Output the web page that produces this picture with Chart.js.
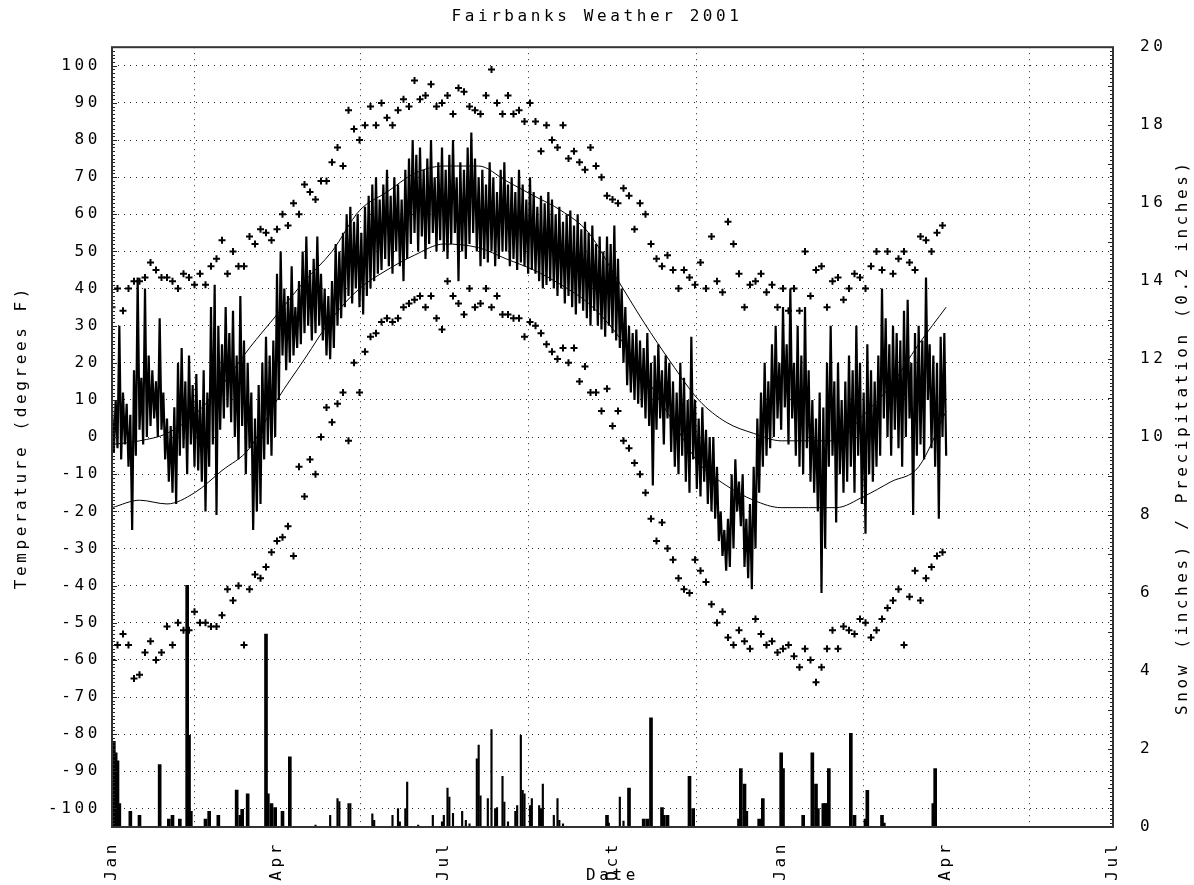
<!DOCTYPE html>
<html>
<head>
<meta charset="utf-8">
<title>Fairbanks Weather 2001</title>
<script src="https://cdn.jsdelivr.net/npm/chart.js@4.4.1/dist/chart.umd.min.js"></script>
<style>
    body { margin: 0; background: #fff; }
    canvas { display: block; }
</style>
</head>
<body>
<canvas id="grafico" width="1194" height="885"></canvas>
<script>
// Fonte monoespaçada, com letras afastadas como no original
const FONTE = 'DejaVu Sans Mono';
const ESPACO = '3.6px';

// Eixo x em dias desde 1 de janeiro de 2001
const diasMarcas = [0, 90, 181, 273, 365, 455, 546];
const rotulosMarcas = ['Jan', 'Apr', 'Jul', 'Oct', 'Jan', 'Apr', 'Jul'];
const marcasTemp = [-100, -90, -80, -70, -60, -50, -40, -30, -20, -10, 0, 10, 20, 30, 40, 50, 60, 70, 80, 90, 100];
const marcasNeve = [0, 2, 4, 6, 8, 10, 12, 14, 16, 18, 20];

// Recordes (graus F), um valor a cada 3 dias
const passoRecorde = 3;
const recordeMax = [
    35, 40, 34, 40, 42, 42, 43, 47, 45, 43,
    43, 42, 40, 44, 43, 41, 44, 41, 46, 48,
    53, 44, 50, 46, 46, 54, 52, 56, 55, 53,
    56, 60, 57, 63, 60, 68, 66, 64, 69, 69,
    74, 78, 73, 88, 83, 80, 84, 89, 84, 90,
    86, 84, 88, 91, 89, 96, 91, 92, 95, 89,
    90, 92, 87, 94, 93, 89, 88, 87, 92, 99,
    90, 87, 92, 87, 88, 85, 90, 85, 77, 84,
    80, 78, 84, 75, 77, 74, 72, 78, 73, 70,
    65, 64, 63, 67, 65, 56, 63, 60, 52, 48,
    46, 49, 45, 40, 45, 43, 41, 47, 40, 54,
    42, 39, 58, 52, 44, 35, 41, 42, 44, 39,
    41, 35, 40, 34, 40, 34, 50, 38, 45, 46,
    35, 42, 43, 37, 40, 44, 43, 40, 46, 50,
    45, 50, 44, 48, 50, 47, 45, 54, 53, 50,
    55, 57
];
const recordeMin = [
    -60, -56, -53, -56, -65, -64, -58, -55, -60, -58,
    -51, -56, -50, -52, -52, -47, -50, -50, -51, -51,
    -48, -41, -44, -40, -56, -41, -37, -38, -35, -31,
    -28, -27, -24, -32, -8, -16, -6, -10, 0, 8,
    4, 9, 12, -1, 20, 12, 23, 27, 28, 31,
    32, 31, 32, 35, 36, 37, 38, 35, 38, 32,
    29, 42, 38, 36, 33, 40, 35, 36, 40, 35,
    38, 33, 33, 32, 32, 27, 31, 30, 28, 25,
    23, 21, 24, 20, 24, 15, 19, 12, 12, 7,
    13, 3, 7, -1, -3, -7, -10, -15, -22, -28,
    -23, -30, -33, -38, -41, -42, -33, -36, -39, -45,
    -50, -47, -54, -56, -52, -55, -57, -49, -53, -56,
    -55, -58, -57, -56, -59, -62, -57, -60, -66, -62,
    -57, -52, -57, -51, -52, -53, -49, -50, -54, -52,
    -49, -46, -44, -41, -56, -43, -36, -44, -38, -35,
    -32, -31
];

// Máxima e mínima do dia, um par a cada 2 dias
const passoDiario = 2;
const diariaMax = [
    8, 10, 30, 12, 9, 6, 18, 43, 16, 40, 22, 18, 15, 32, 12,
    5, 3, 8, 20, 24, 15, 22, 14, 17, 10, 18, 12, 35, 41, 30,
    25, 35, 28, 34, 22, 38, 26, 20, 12, 5, 14, 20, 27, 22, 26,
    44, 50, 40, 38, 46, 35, 42, 50, 54, 45, 48, 54, 44, 40, 38,
    42, 52, 50, 55, 60, 62, 58, 60, 55, 62, 65, 68, 70, 64, 68,
    72, 65, 70, 68, 64, 72, 75, 80, 76, 78, 72, 75, 80, 70, 74,
    78, 72, 76, 80, 70, 74, 72, 78, 82, 75, 70, 72, 68, 74, 70,
    66, 72, 74, 68, 70, 66, 72, 68, 64, 70, 66, 62, 65, 63, 66,
    64, 60, 62, 58, 60, 61, 57, 60, 56, 58, 55, 57, 52, 54, 50,
    54, 52, 57, 48, 40, 35, 30, 28, 29, 26, 24, 28, 20, 22, 25,
    18, 22, 20, 15, 12, 20, 16, 10, 27, 10, 5, 8, 2, 0, 0,
    -8, -20, -25, -22, -10, -6, -12, -10, -22, -18, -8, 5, 12, 20, 15,
    25, 30, 20, 35, 25, 40, 20, 30, 22, 35, 18, 10, 5, 12, 8,
    20, 30, 15, 20, 10, 15, 22, 18, 30, 20, 12, 25, 18, 15, 22,
    40, 32, 25, 30, 28, 26, 34, 37, 20, 28, 30, 26, 43, 25, 22,
    20, 27, 28
];
const diariaMin = [
    -4, -3, -6, -2, -8, -25, -5, 2, -2, 0, 3, 5, 0, 2, -6,
    -12, -15, -18, -5, -3, -10, -2, -8, -9, -12, -20, -8, -2, -21, 2,
    5, 8, 4, 0, -6, 3, -10, -3, -25, -20, -18, -6, -2, -5, 0,
    10, 22, 18, 20, 22, 24, 25, 28, 30, 26, 28, 30, 26, 22, 21,
    24, 30, 32, 35, 38, 36, 40, 35, 33, 38, 40, 42, 44, 45, 48,
    46, 44, 50, 46, 42, 48, 52, 55, 50, 54, 48, 52, 55, 50, 53,
    50, 48, 52, 55, 42, 50, 48, 52, 55, 50, 46, 48, 47, 50, 46,
    48, 50, 50, 46, 48, 45, 47, 46, 44, 45, 44, 42, 40, 41, 42,
    40, 38, 40, 36, 38, 35, 33, 36, 34, 32, 30, 34, 30, 29, 27,
    30, 28, 26, 24, 20, 14, 12, 10, 9, 8, 5, 3, -13, 2, 5,
    -2, 5, -4, -8, -10, -5, -12, -15, -6, -14, -16, -12, -18, -20, -22,
    -28, -32, -36, -35, -30, -20, -24, -35, -38, -41, -30, -15, -8, -5, -3,
    0, 5, 2, 8, -2, 5, -5, -8, -10, -3, -12, -15, -20, -42, -30,
    -8, -5, -23, -10, -15, -12, -8, -15, -5, -18, -26, -10, -12, -8, -5,
    5, 0, -5, 2, -3, -8, 0, 5, -21, -5, -2, -6, 10, -3, -8,
    -22, 0, -5
];

// Normais (curvas suaves)
const diasNormal = [0, 15, 30, 45, 60, 75, 90, 105, 120, 135, 150, 165, 181, 200, 215, 230,
    245, 260, 275, 290, 305, 320, 335, 350, 365, 380, 395, 410, 425, 440, 455];
const normalMax = [-2, -1, 1, 6, 14, 24, 33, 42, 50, 61, 66, 71, 73, 73, 69, 65,
    61, 55, 43, 31, 20, 10, 4, 1, -1, -1, -1, 6, 14, 25, 35];
const normalMin = [-19, -17, -18, -15, -9, -3, 10, 21, 32, 40, 45, 49, 52, 51, 48, 45,
    41, 36, 28, 17, 5, -7, -13, -17, -19, -19, -19, -16, -12, -8, 7];

// Neve (polegadas) e precipitação (0.2 polegadas), eixo da direita
const diasNeve = [1, 2, 3, 4, 10, 15, 26, 31, 33, 37, 41, 42, 43, 51, 53, 58, 68, 70, 71, 74,
    84, 85, 87, 89, 93, 97, 270, 282, 290, 292, 294, 300, 301, 303, 315, 317, 342, 343, 345, 346,
    353, 355, 365, 366, 377, 382, 384, 385, 388, 389, 390, 391, 403, 405, 411, 412, 420, 421, 448, 449];
const neve = [2.2, 1.9, 1.7, 0.6, 0.4, 0.3, 1.6, 0.2, 0.3, 0.2, 6.2, 2.35, 0.4, 0.2, 0.4, 0.3, 0.95, 0.3, 0.45, 0.85,
    4.95, 0.85, 0.6, 0.5, 0.4, 1.8, 0.3, 1.0, 0.2, 0.2, 2.8, 0.5, 0.3, 0.3, 1.3, 0.47, 0.2, 1.5, 1.1, 0.4,
    0.2, 0.73, 1.9, 1.5, 0.3, 1.9, 1.1, 0.47, 0.6, 0.6, 0.6, 1.5, 2.4, 0.3, 0.2, 0.94, 0.3, 0.1, 0.6, 1.5];
const diasChuva = [111, 119, 123, 124, 129, 130, 142, 143, 153, 156, 157, 160, 161, 167, 175, 180, 181,
    183, 184, 186, 191, 193, 195, 199, 200, 201, 205, 207, 209, 210, 213, 214, 216, 220, 221, 223,
    224, 225, 228, 229, 233, 234, 235, 241, 243, 244, 246, 271, 277, 279];
const chuva = [0.05, 0.3, 0.73, 0.65, 0.6, 0.6, 0.34, 0.17, 0.3, 0.47, 0.13, 0.47, 1.15, 0.05, 0.3, 0.13, 0.3,
    1.0, 0.77, 0.35, 0.4, 0.17, 0.08, 1.75, 2.1, 0.8, 0.73, 2.5, 0.47, 0.5, 1.3, 0.64, 0.13, 0.4, 0.55, 2.35,
    0.94, 0.85, 0.55, 0.73, 0.55, 0.47, 1.1, 0.3, 0.73, 0.17, 0.08, 0.1, 0.77, 0.15];

function pontosPasso(valores, passo) {
    return valores.map((v, i) => ({ x: i * passo, y: v }));
}

function pontosPares(dias, valores) {
    return dias.map((d, i) => ({ x: d, y: valores[i] }));
}

// Faixa diária: máxima num dia, mínima no seguinte (zigue-zague)
const faixaDiaria = [];
diariaMax.forEach((max, i) => {
    faixaDiaria.push({ x: i * passoDiario, y: max });
    faixaDiaria.push({ x: i * passoDiario + 1, y: diariaMin[i] });
});

const fonteTexto = { family: FONTE, size: 16, weight: 'normal' };

// Espaçamento de letras no canvas
const espacamento = {
    id: 'espacamento',
    beforeUpdate(chart) { chart.ctx.letterSpacing = ESPACO; },
    beforeDraw(chart) { chart.ctx.letterSpacing = ESPACO; }
};

// Moldura, marcas menores e título do eixo da direita
const moldura = {
    id: 'moldura',
    afterDatasetsDraw(chart) {
        const { ctx, chartArea: a, scales } = chart;
        ctx.save();
        ctx.strokeStyle = '#222';
        ctx.lineWidth = 1;
        ctx.beginPath();
        for (let t = -105; t <= 105; t++) {
            const y = Math.round(scales.y.getPixelForValue(t)) + 0.5;
            const tam = t % 10 === 0 ? 5 : 3;
            ctx.moveTo(a.left, y);
            ctx.lineTo(a.left + tam, y);
        }
        for (let i = 0; i <= 200; i++) {
            const y = Math.round(scales.y2.getPixelForValue(i / 10)) + 0.5;
            const tam = i % 10 === 0 ? 5 : 3;
            ctx.moveTo(a.right, y);
            ctx.lineTo(a.right - tam, y);
        }
        ctx.stroke();
        ctx.lineWidth = 2;
        ctx.strokeStyle = '#333';
        ctx.strokeRect(a.left, a.top, a.right - a.left, a.bottom - a.top);
        ctx.restore();
    },
    afterDraw(chart) {
        const { ctx, chartArea: a } = chart;
        ctx.save();
        ctx.letterSpacing = ESPACO;
        ctx.font = '16px "' + FONTE + '"';
        ctx.fillStyle = '#000';
        ctx.textAlign = 'center';
        ctx.textBaseline = 'middle';
        ctx.translate(1183, (a.top + a.bottom) / 2);
        ctx.rotate(-Math.PI / 2);
        ctx.fillText('Snow (inches) / Precipitation (0.2 inches)', 0, 0);
        ctx.restore();
    }
};

const ctx = document.getElementById('grafico').getContext('2d');
const grafico = new Chart(ctx, {
    type: 'scatter',
    data: {
        datasets: [
            {
                type: 'line',
                label: 'Daily',
                data: faixaDiaria,
                borderColor: '#000',
                borderWidth: 2.2,
                pointRadius: 0,
                tension: 0,
                yAxisID: 'y'
            },
            {
                type: 'line',
                label: 'Normal high',
                data: pontosPares(diasNormal, normalMax),
                borderColor: '#000',
                borderWidth: 1,
                pointRadius: 0,
                cubicInterpolationMode: 'monotone',
                yAxisID: 'y'
            },
            {
                type: 'line',
                label: 'Normal low',
                data: pontosPares(diasNormal, normalMin),
                borderColor: '#000',
                borderWidth: 1,
                pointRadius: 0,
                cubicInterpolationMode: 'monotone',
                yAxisID: 'y'
            },
            {
                type: 'scatter',
                label: 'Record high',
                data: pontosPasso(recordeMax, passoRecorde),
                pointStyle: 'cross',
                pointRadius: 3.5,
                borderWidth: 2,
                borderColor: '#000',
                yAxisID: 'y'
            },
            {
                type: 'scatter',
                label: 'Record low',
                data: pontosPasso(recordeMin, passoRecorde),
                pointStyle: 'cross',
                pointRadius: 3.5,
                borderWidth: 2,
                borderColor: '#000',
                yAxisID: 'y'
            },
            {
                type: 'bar',
                label: 'Snow',
                data: pontosPares(diasNeve, neve),
                backgroundColor: '#000',
                barThickness: 3,
                grouped: false,
                yAxisID: 'y2'
            },
            {
                type: 'bar',
                label: 'Precipitation',
                data: pontosPares(diasChuva, chuva),
                backgroundColor: '#000',
                barThickness: 1.5,
                grouped: false,
                yAxisID: 'y2'
            }
        ]
    },
    options: {
        responsive: false,
        animation: false,
        events: [],
        layout: { padding: 0 },
        plugins: {
            legend: { display: false },
            tooltip: { enabled: false },
            title: {
                display: true,
                text: 'Fairbanks Weather 2001',
                color: '#000',
                font: fonteTexto,
                padding: { top: 7, bottom: 21 }
            }
        },
        scales: {
            x: {
                type: 'linear',
                min: 0,
                max: 546,
                offset: false,
                afterBuildTicks: s => { s.ticks = diasMarcas.map(v => ({ value: v })); },
                afterFit: s => { s.height = 58; },
                ticks: {
                    autoSkip: false,
                    minRotation: 90,
                    maxRotation: 90,
                    padding: 14,
                    color: '#000',
                    font: fonteTexto,
                    callback: v => rotulosMarcas[diasMarcas.indexOf(v)]
                },
                grid: { color: 'rgba(0,0,0,0.85)', drawTicks: false },
                border: { display: false, dash: [1, 5] },
                title: {
                    display: true,
                    text: 'Date',
                    color: '#000',
                    font: fonteTexto,
                    padding: { top: 0, bottom: 0 }
                }
            },
            y: {
                position: 'left',
                min: -105,
                max: 105,
                afterBuildTicks: s => { s.ticks = marcasTemp.map(v => ({ value: v })); },
                afterFit: s => { s.width = 112; },
                ticks: { padding: 11, color: '#000', font: fonteTexto },
                grid: { color: 'rgba(0,0,0,0.85)', drawTicks: false },
                border: { display: false, dash: [1, 5] },
                title: {
                    display: true,
                    text: 'Temperature (degrees F)',
                    color: '#000',
                    font: fonteTexto,
                    padding: { top: 12, bottom: 0 }
                }
            },
            y2: {
                position: 'right',
                min: 0,
                max: 20,
                afterBuildTicks: s => { s.ticks = marcasNeve.map(v => ({ value: v })); },
                afterFit: s => { s.width = 81; },
                ticks: { padding: 27, color: '#000', font: fonteTexto },
                grid: { display: false, drawTicks: false },
                border: { display: false }
            }
        }
    },
    plugins: [espacamento, moldura]
});
</script>
</body>
</html>
